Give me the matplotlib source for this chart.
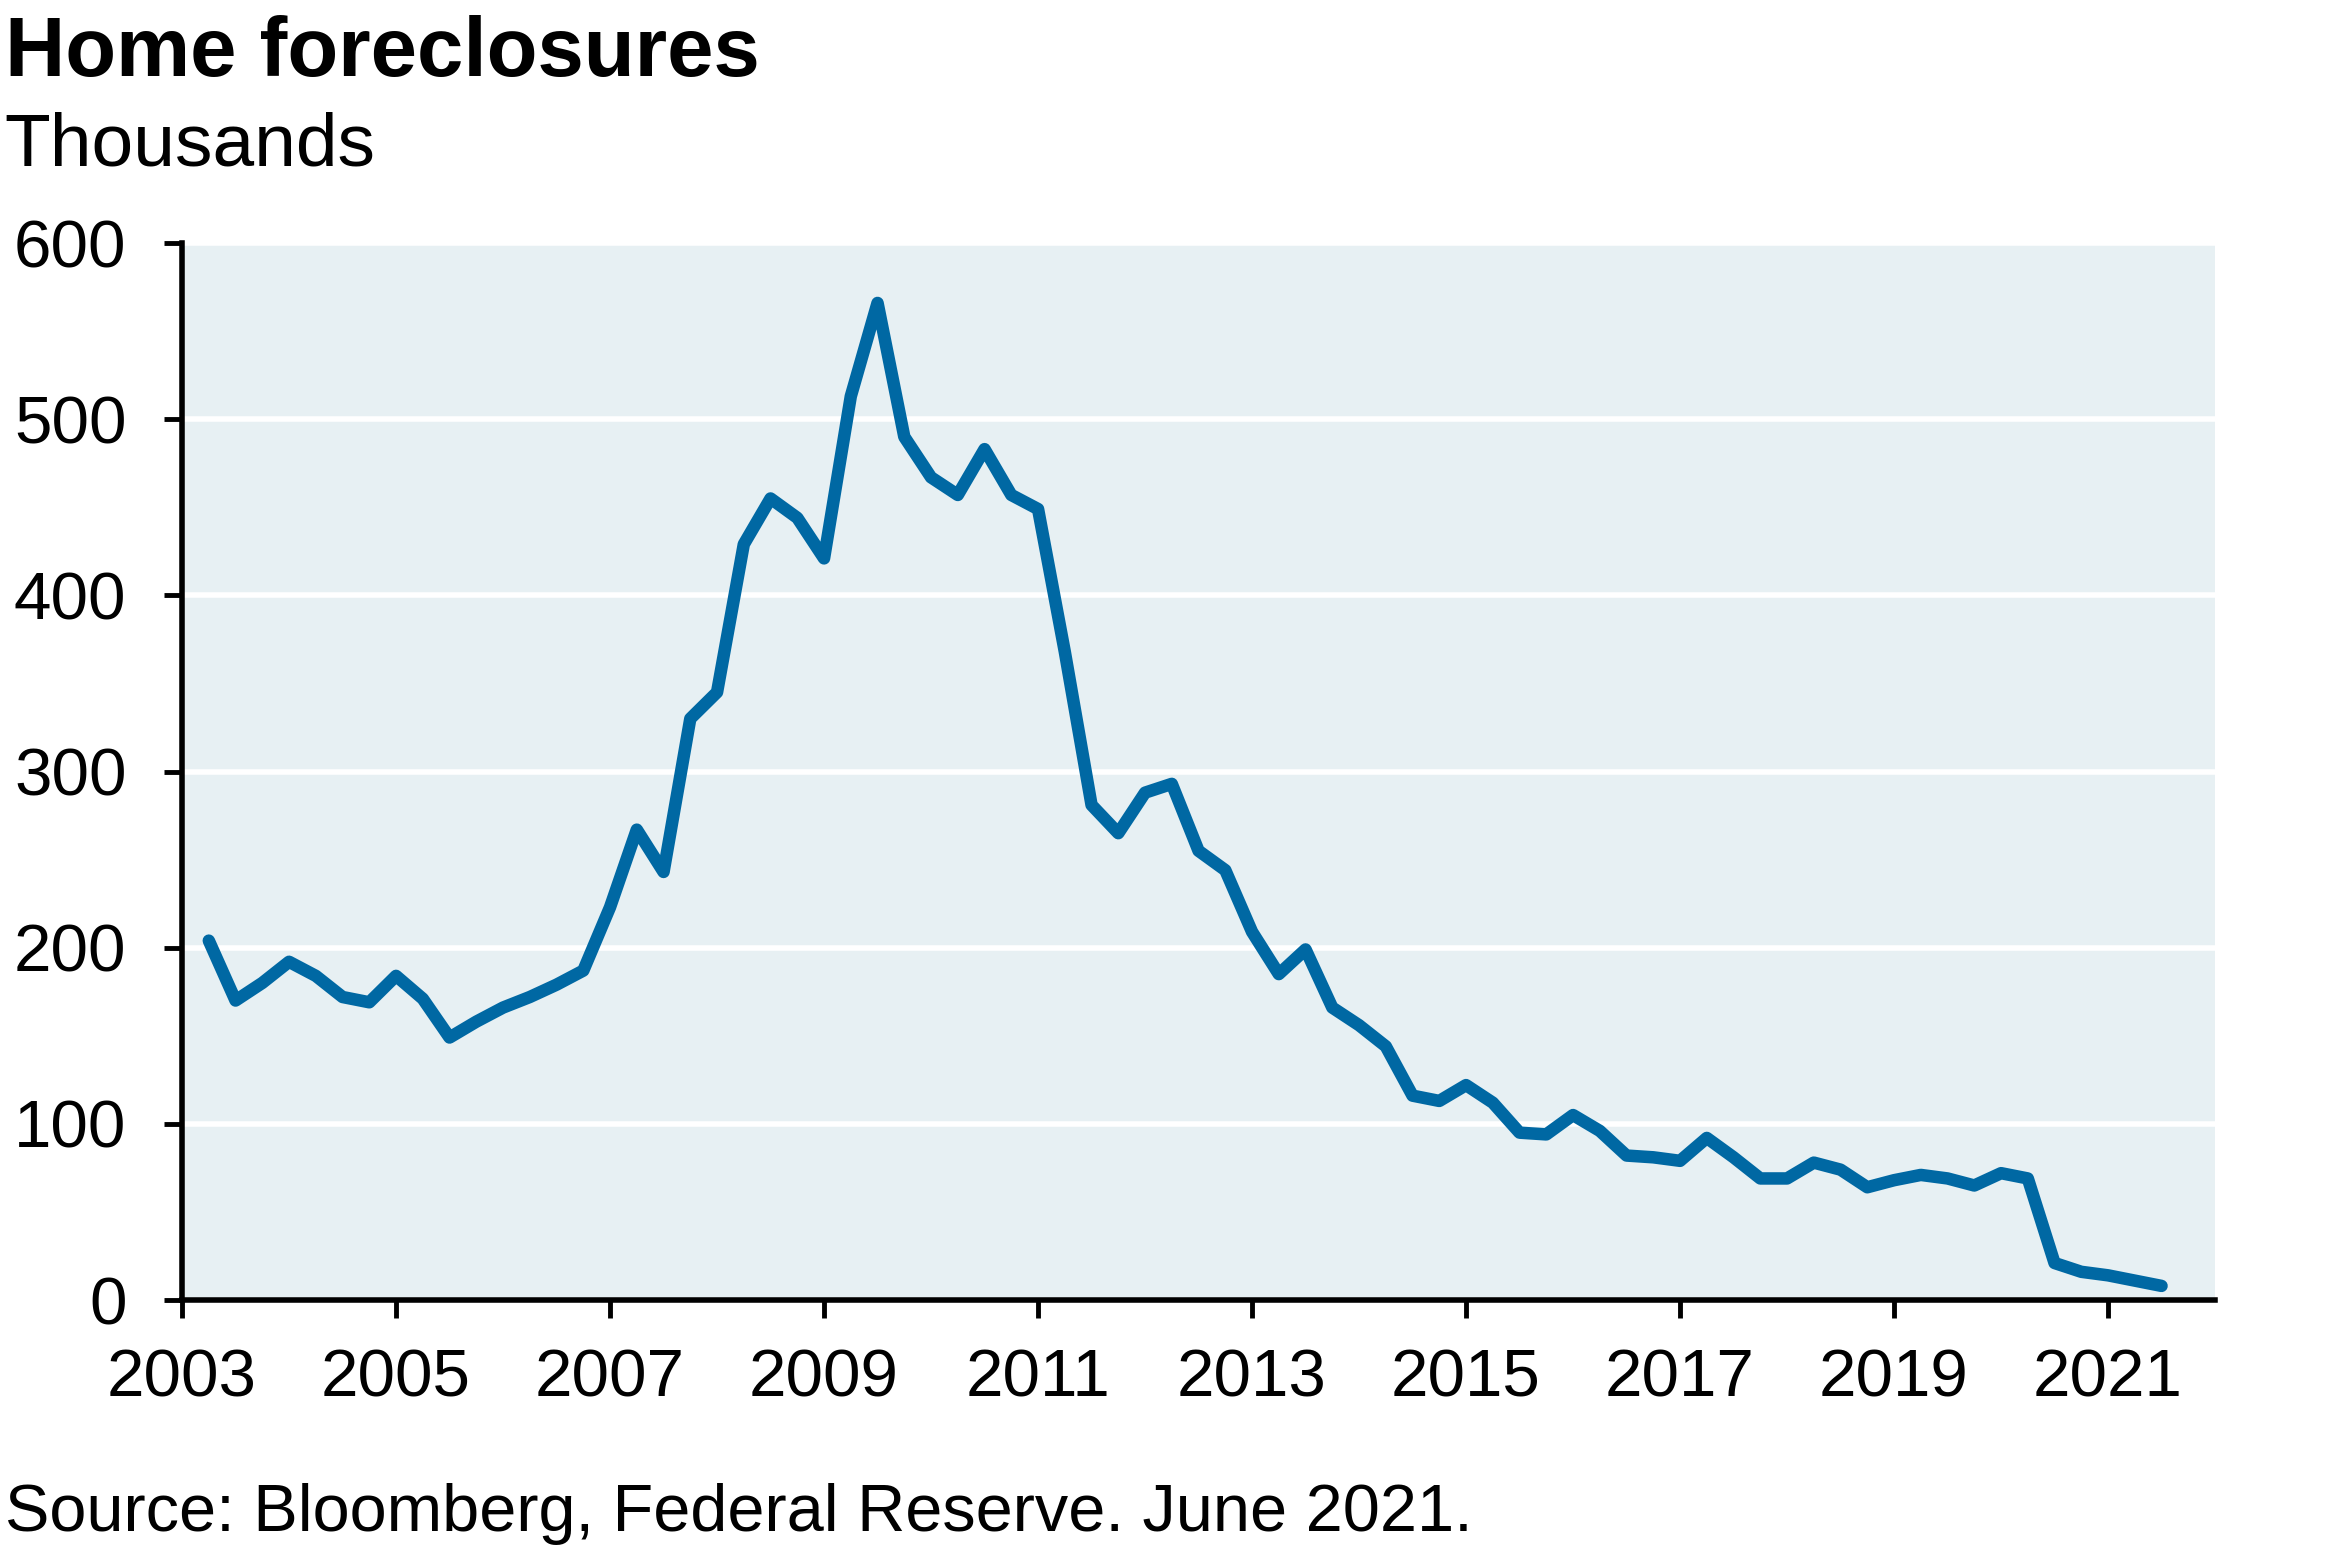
import numpy as np
import pandas as pd
import matplotlib.pyplot as plt

plt.rcParams['font.family'] = ['Liberation Sans', 'DejaVu Sans']

# quarterly home foreclosures, thousands (2003Q1 .. 2021Q2, plotted at quarter end)
quarters = pd.period_range('2003Q1', '2021Q2', freq='Q')
foreclosures = [
    204, 170, 180,
    192, 184, 172, 169,
    184, 171, 149, 158,
    166, 172, 179, 187,
    223, 267, 243, 330,
    345, 429, 455, 444,
    421, 513, 566, 490,
    467, 457, 483, 457,
    449, 368, 281, 265,
    288, 293, 255, 244,
    209, 185, 199, 166,
    156, 144, 116, 113,
    122, 112, 95, 94,
    105, 96, 82, 81,
    79, 92, 81, 69,
    69, 78, 74, 64,
    68, 71, 69, 65,
    72, 69, 21, 16,
    14, 11, 8,
]
year_ticks = [2003, 2005, 2007, 2009, 2011, 2013, 2015, 2017, 2019, 2021]
y_ticks = [0, 100, 200, 300, 400, 500, 600]

x = quarters.year + quarters.quarter / 4

fig = plt.figure(figsize=(23.4, 15.61), dpi=100)
ax = fig.add_axes([0.0778, 0.1672, 0.8688, 0.6771])
ax.set_facecolor('#E7F0F3')

ax.plot(x, foreclosures, color='#0068A3', lw=9, solid_joinstyle='round',
        solid_capstyle='round', zorder=3)

ax.set_xlim(2003, 2022)
ax.set_ylim(0, 600)
ax.set_xticks(year_ticks)
ax.set_yticks(y_ticks)
ax.grid(axis='y', color='white', lw=4)
ax.set_axisbelow(True)

for s in ['top', 'right']:
    ax.spines[s].set_visible(False)
for s in ['left', 'bottom']:
    ax.spines[s].set_linewidth(4)
ax.tick_params(axis='both', length=13, width=3.5, labelsize=48.5, color='black')
ax.tick_params(axis='y', pad=27)
ax.tick_params(axis='x', pad=22)

fig.text(0.002, 0.951, 'Home foreclosures', fontsize=60, fontweight='bold', va='baseline')
fig.text(0.002, 0.894, 'Thousands', fontsize=54, va='baseline')
fig.text(0.002, 0.019, 'Source: Bloomberg, Federal Reserve. June 2021.', fontsize=48, va='baseline')

fig.savefig('out.png', dpi=100)
